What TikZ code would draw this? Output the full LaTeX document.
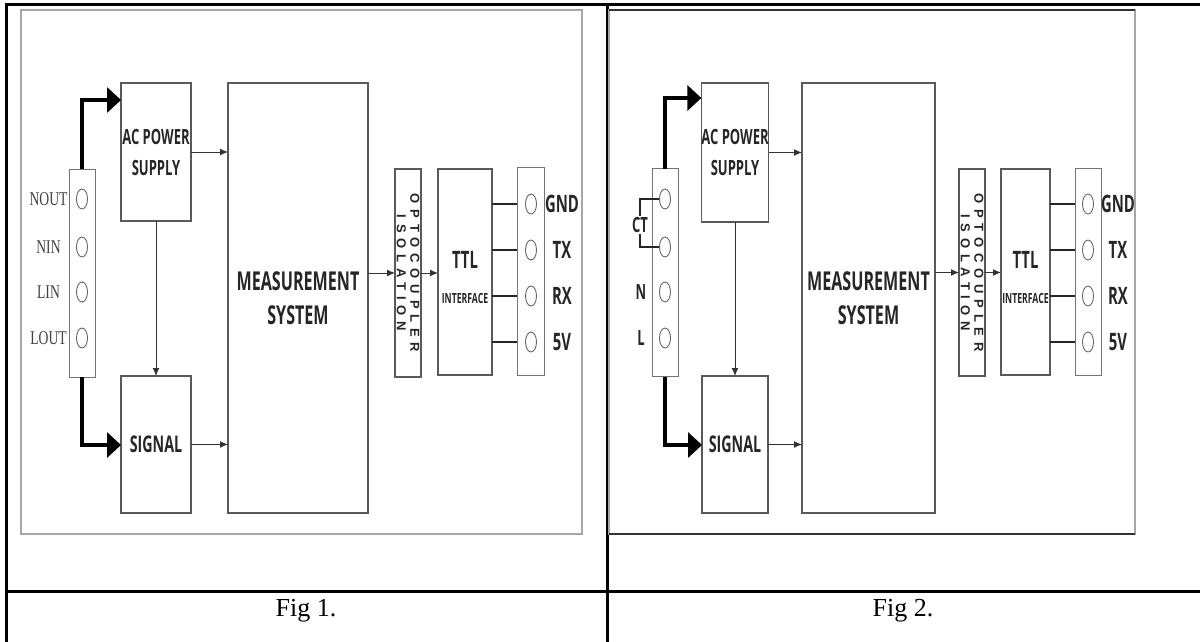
\documentclass[tikz,border=0pt]{standalone}
\usepackage{fontspec}
\setmainfont{Liberation Serif}
\newfontfamily\blockfont[FakeStretch=0.62]{Open Sans}
\newfontfamily\narrowserif[FakeStretch=0.7]{Liberation Serif}
\newfontfamily\optofont[LetterSpace=45]{Liberation Sans}
\usetikzlibrary{arrows.meta,shapes.geometric,positioning}

\tikzset{
  blk/.style={draw=black!65, line width=1.1pt, inner sep=0pt, outer sep=0pt, align=center, text=black!85},
  strip/.style={draw=black!55, line width=1pt, inner sep=0pt, outer sep=0pt, minimum width=26pt, minimum height=208pt},
  term/.style={ellipse, draw=black!60, line width=0.9pt, minimum width=11pt, minimum height=20pt, inner sep=0pt},
  wire/.style={-{Latex[length=8pt,width=7pt]}, line width=1pt, black!80},
  feed/.style={-{Triangle[length=14pt,width=25pt]}, line width=4.5pt},
  pinwire/.style={line width=2.6pt, black!85},
  figframe/.style={draw=black!35, line width=2pt},
  rule/.style={line width=3pt},
  bigtxt/.style={font=\blockfont\bfseries\fontsize{26}{34.5}\selectfont},
  midtxt/.style={font=\blockfont\bfseries\fontsize{21}{31}\selectfont},
  sigtxt/.style={font=\blockfont\bfseries\fontsize{23}{23}\selectfont},
  pintxt/.style={font=\blockfont\bfseries\fontsize{24}{24}\selectfont, inner sep=0pt, text=black!85},
  sidetxt/.style={font=\blockfont\bfseries\fontsize{21}{21}\selectfont, inner sep=0pt, text=black!85},
  tinytxt/.style={font=\blockfont\bfseries\fontsize{14}{14}\selectfont, inner sep=0pt, text=black!85},
  opttxt/.style={font=\optofont\bfseries\fontsize{13}{13.5}\selectfont, align=center, rotate=-90, inner sep=0pt, text=black!85},
  termtxt/.style={font=\narrowserif\fontsize{19.5}{19.5}\selectfont, inner sep=0pt, text=black!75},
  captxt/.style={font=\fontsize{26}{26}\selectfont, anchor=base}
}

\begin{document}
\begin{tikzpicture}[x=1pt, y=-1pt]
  \useasboundingbox (0,0) rectangle (1200,642);

  % table rules
  \draw[rule] (6,642) -- (6,5) -- (1200,5);
  \draw[rule] (607,5) -- (607,642);
  \draw[rule] (6,591) -- (1200,591);
  \node[captxt] (capA) at (306,616) {Fig 1.};
  \node[captxt] (capB) at (903,616) {Fig 2.};

  % Fig 1
  \draw[figframe] (21,10) rectangle (582,534);
  \node[strip] (stripA) at (82,273) {};
  \node[blk, midtxt, minimum width=70pt, minimum height=138pt] (acA) at (156,152) {AC POWER\\SUPPLY};
  \node[blk, sigtxt, minimum width=70pt, minimum height=137pt] (sigA) at (156,444.5) {SIGNAL};
  \node[blk, bigtxt, minimum width=140pt, minimum height=430pt] (measA) at (298,298) {MEASUREMENT\\SYSTEM};
  \node[blk, minimum width=26pt, minimum height=208pt] (optA) at (408,273) {};
  \node[opttxt] at (optA) {OPTOCOUPLER\\ISOLATION};
  \node[blk, minimum width=54pt, minimum height=206pt] (ttlA) at (465,272) {};
  \node[pintxt] at (465,260) {TTL};
  \node[tinytxt] at (465,298) {INTERFACE};
  \node[strip, minimum width=27pt] (connA) at (530.5,271) {};

  \foreach \y/\txt [count=\i] in {199/NOUT,247/NIN,292/LIN,338/LOUT}{
    \node[term] (inA\i) at (82,\y) {};
    \node[termtxt] at (48.5,\y) {\txt};
  }
  \foreach \y/\txt [count=\i] in {204/GND,250/TX,296/RX,342/5V}{
    \node[term] (outA\i) at (531,\y) {};
    \node[pintxt] at (562,\y) {\txt};
    \draw[pinwire] (ttlA.east |- outA\i) -- (connA.west |- outA\i);
  }

  \coordinate (feedA1) at (82,100);
  \coordinate (feedA2) at (82,445);
  \draw[feed] (stripA.north) -- (feedA1) -- (acA.west |- feedA1);
  \draw[feed] (stripA.south) -- (feedA2) -- (sigA.west |- feedA2);
  \draw[wire] (acA.east) -- (measA.west |- acA.east);
  \draw[wire] (sigA.east) -- (measA.west |- sigA.east);
  \draw[wire] (acA.south) -- (sigA.north);
  \draw[wire] (measA.east |- optA.west) -- (optA.west);
  \draw[wire] (optA.east) -- (ttlA.west |- optA.east);

  % Fig 2
  \draw[figframe] (609,10) rectangle (1135,534);
  \draw[black!80, line width=1.2pt] (609,10) -- (1135,10) (609,534) -- (1135,534);
  \node[strip] (stripB) at (665,272.5) {};
  \node[blk, midtxt, minimum width=66pt, minimum height=139pt] (acB) at (735,152.5) {AC POWER\\SUPPLY};
  \node[blk, sigtxt, minimum width=66pt, minimum height=137pt] (sigB) at (735,444.5) {SIGNAL};
  \node[blk, bigtxt, minimum width=133pt, minimum height=430pt] (measB) at (868.5,298) {MEASUREMENT\\SYSTEM};
  \node[blk, minimum width=26pt, minimum height=207pt] (optB) at (972,272.5) {};
  \node[opttxt] at (optB) {OPTOCOUPLER\\ISOLATION};
  \node[blk, minimum width=49pt, minimum height=206pt] (ttlB) at (1025.5,272) {};
  \node[pintxt] at (1025.5,260) {TTL};
  \node[tinytxt] at (1025.5,298) {INTERFACE};
  \node[strip, minimum height=207pt] (connB) at (1088,271.5) {};

  \foreach \y [count=\i] in {199,247,292,338}
    \node[term] (inB\i) at (665,\y) {};
  \node[sidetxt, inner sep=1.5pt] (ctB) at (640,225) {CT};
  \draw[line width=1.5pt, black!85] (inB1.west) -| (ctB.north);
  \draw[line width=1.5pt, black!85] (inB2.west) -| (ctB.south);
  \node[sidetxt] (nB) at (641,292) {N};
  \node[sidetxt] (lB) at (641,338) {L};
  \foreach \y/\txt [count=\i] in {204/GND,250/TX,296/RX,342/5V}{
    \node[term] (outB\i) at (1088,\y) {};
    \node[pintxt] at (1118,\y) {\txt};
    \draw[pinwire] (ttlB.east |- outB\i) -- (connB.west |- outB\i);
  }

  \coordinate (feedB1) at (665,98);
  \coordinate (feedB2) at (665,445);
  \draw[feed] (stripB.north) -- (feedB1) -- (acB.west |- feedB1);
  \draw[feed] (stripB.south) -- (feedB2) -- (sigB.west |- feedB2);
  \draw[wire] (acB.east) -- (measB.west |- acB.east);
  \draw[wire] (sigB.east) -- (measB.west |- sigB.east);
  \draw[wire] (acB.south) -- (sigB.north);
  \draw[wire] (measB.east |- optB.west) -- (optB.west);
  \draw[wire] (optB.east) -- (ttlB.west |- optB.east);
\end{tikzpicture}
\end{document}
